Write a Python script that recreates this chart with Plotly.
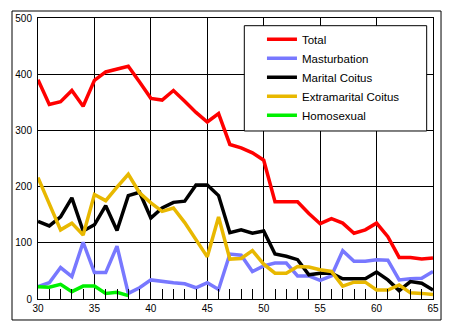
import plotly.graph_objects as go

years = list(range(30, 66))
total = [390, 346, 351, 371, 343, 389, 404, 409, 414, 386, 357, 354, 371, 352, 332, 315, 330, 275,
         269, 260, 247, 173, 173, 173, 152, 134, 143, 135, 117, 123, 135, 111, 74, 74, 71, 73]
masturbation = [22, 29, 56, 40, 101, 47, 47, 94, 10, 20, 34, 31, 29, 27, 20, 29, 17, 80,
                78, 49, 59, 64, 64, 41, 41, 33, 41, 86, 67, 67, 70, 69, 34, 36, 37, 49]
marital = [138, 130, 146, 180, 121, 132, 166, 122, 184, 190, 144, 162, 172, 174, 203, 203, 184, 118,
           123, 117, 121, 80, 76, 70, 43, 46, 46, 36, 36, 36, 48, 34, 15, 31, 28, 16]
extramarital = [216, 171, 123, 135, 114, 186, 175, 199, 222, 189, 171, 156, 162, 136, 106, 75, 146, 71,
                72, 86, 62, 46, 46, 58, 57, 52, 49, 23, 30, 30, 16, 16, 25, 11, 10, 8]
homo_years = list(range(30, 39))
homosexual = [22, 21, 26, 13, 23, 23, 10, 12, 6]

series = [
    ("Total", years, total, "#FF0000"),
    ("Masturbation", years, masturbation, "#7878FF"),
    ("Marital Coitus", years, marital, "#000000"),
    ("Extramarital Coitus", years, extramarital, "#E8B800"),
    ("Homosexual", homo_years, homosexual, "#00F000"),
]

fig = go.Figure()
for name, xs, ys, col in series:
    fig.add_trace(go.Scatter(x=xs, y=ys, name=name, mode="lines",
                             line=dict(color=col, width=3.5)))

font = dict(family="Liberation Sans, Arial, sans-serif", size=10, color="black")

fig.update_layout(
    width=452, height=330,
    margin=dict(l=38, r=19, t=18, b=31),
    paper_bgcolor="white", plot_bgcolor="white",
    font=font,
    showlegend=True,
    legend=dict(x=0.567, y=0.9758, xanchor="left", yanchor="top",
                bgcolor="rgba(0,0,0,0)", borderwidth=0,
                font=dict(family="Liberation Sans, Arial, sans-serif", size=11.5, color="black"),
                traceorder="normal"),
    xaxis=dict(range=[30, 65], tickmode="linear", tick0=30, dtick=5,
               showgrid=True, gridcolor="black", gridwidth=1,
               showline=True, linecolor="black", linewidth=1, mirror=True,
               ticks="", zeroline=False, tickfont=font,
               minor=dict(ticks="inside", ticklen=10, tickcolor="black", tickwidth=1,
                          dtick=1, showgrid=False)),
    yaxis=dict(range=[0, 500], tickmode="linear", tick0=0, dtick=100,
               showgrid=True, gridcolor="black", gridwidth=1,
               showline=True, linecolor="black", linewidth=1, mirror=True,
               ticks="", zeroline=False, tickfont=font, ticklabelstandoff=3),
    shapes=[
        dict(type="rect", xref="paper", yref="paper",
             x0=-0.0658, x1=1.0203, y0=-0.0747, y1=1.0249,
             line=dict(color="black", width=1), fillcolor="rgba(0,0,0,0)", layer="above"),
        dict(type="rect", xref="paper", yref="paper",
             x0=0.5223, x1=0.984, y0=0.5979, y1=0.9726,
             line=dict(color="black", width=1), fillcolor="white", layer="above"),
    ],
)

fig.write_html("out.html")
